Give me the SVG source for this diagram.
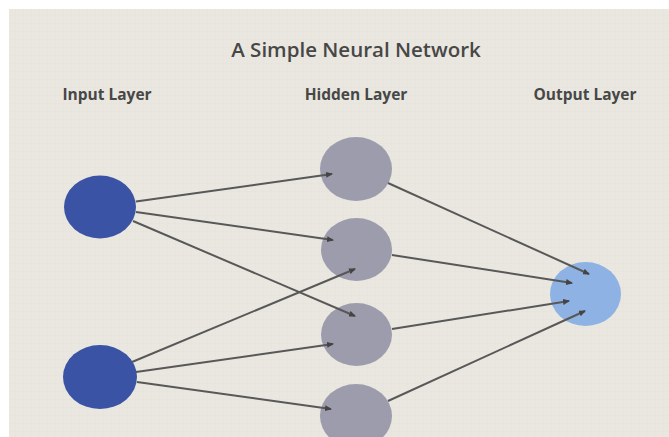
<svg xmlns="http://www.w3.org/2000/svg" width="669" height="437" viewBox="0 0 669 437">
<style>
.t{font-family:"Open Sans","Liberation Sans",sans-serif;fill:#474747;text-anchor:middle}
.in{fill:#3b53a5}
.hid{fill:#9c9cad}
.out{fill:#8eb2e3}
.c{stroke:#585858;stroke-width:2;fill:none;marker-end:url(#ah)}
</style>
<defs>
<pattern id="grid" width="8" height="8" patternUnits="userSpaceOnUse">
<path d="M8 0V8H0" fill="none" stroke="#dcd8d0" stroke-width="0.6" opacity="0.5"/>
</pattern>
<marker id="ah" markerWidth="7" markerHeight="6" refX="6" refY="3" orient="auto" markerUnits="userSpaceOnUse">
<path d="M0 0L7 3L0 6Z" fill="#444444"/>
</marker>
</defs>
<rect x="0" y="0" width="669" height="437" fill="#ffffff"/>
<rect x="9" y="9" width="660" height="428" fill="#eae7e0"/>
<rect x="9" y="9" width="660" height="428" fill="url(#grid)"/>
<text class="t" x="356" y="57" font-size="20.5" font-weight="600">A Simple Neural Network</text>
<text class="t" x="107" y="100" font-size="15.5" font-weight="700">Input Layer</text>
<text class="t" x="356" y="100" font-size="15.5" font-weight="700">Hidden Layer</text>
<text class="t" x="585" y="100" font-size="15.5" font-weight="700">Output Layer</text>
<g id="input1"><ellipse class="in" cx="100" cy="207" rx="36" ry="31.5"/></g>
<g id="input2"><ellipse class="in" cx="100" cy="377" rx="37" ry="32"/></g>
<g id="hidden1"><ellipse class="hid" cx="356" cy="169" rx="36" ry="32"/></g>
<g id="hidden2"><ellipse class="hid" cx="356.5" cy="249.5" rx="35.5" ry="31.5"/></g>
<g id="hidden3"><ellipse class="hid" cx="356.5" cy="334.5" rx="35.5" ry="31.5"/></g>
<g id="hidden4"><ellipse class="hid" cx="356" cy="416" rx="36" ry="32"/></g>
<g id="output"><ellipse class="out" cx="585.5" cy="294" rx="35.5" ry="32"/></g>
<g id="connectors">
<line class="c" x1="136" y1="201.5" x2="332" y2="174"/>
<line class="c" x1="136" y1="212" x2="333" y2="240"/>
<line class="c" x1="133" y1="221" x2="355" y2="316"/>
<line class="c" x1="132" y1="362" x2="355" y2="269"/>
<line class="c" x1="136" y1="372" x2="333" y2="344"/>
<line class="c" x1="137" y1="382" x2="331" y2="409"/>
<line class="c" x1="388" y1="183" x2="589" y2="274"/>
<line class="c" x1="392" y1="255" x2="572" y2="283"/>
<line class="c" x1="392" y1="329" x2="569" y2="301"/>
<line class="c" x1="388" y1="401" x2="585" y2="311"/>
</g>
</svg>
